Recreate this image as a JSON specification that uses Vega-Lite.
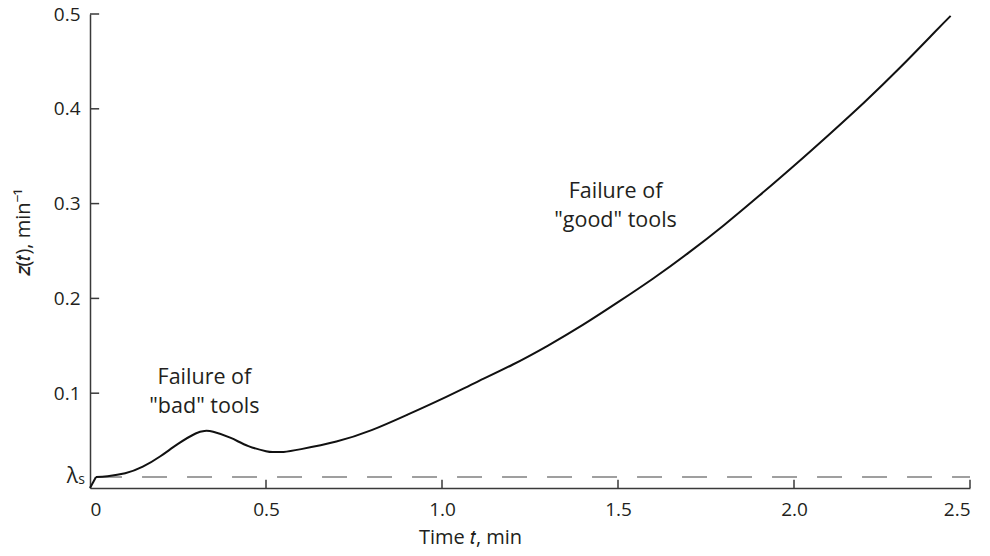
{
  "$schema": "https://vega.github.io/schema/vega-lite/v6.json",
  "width": 880,
  "height": 474,
  "autosize": {"type": "none"},
  "padding": {"left": 90, "top": 14, "right": 20, "bottom": 68},
  "background": "white",
  "config": {
    "view": {"stroke": null},
    "font": "Open Sans",
    "axis": {
      "grid": false,
      "ticks": false,
      "domainColor": "#3a3a3a",
      "domainWidth": 1.5,
      "labelFont": "Open Sans",
      "labelFontSize": 19,
      "labelColor": "#231f20",
      "titleFont": "Open Sans",
      "titleFontSize": 20,
      "titleFontWeight": "normal",
      "titleColor": "#231f20"
    }
  },
  "datasets": {
    "curve": [
      {"t": 0.0, "z": 0.0},
      {"t": 0.017, "z": 0.0116},
      {"t": 0.05, "z": 0.0125},
      {"t": 0.1, "z": 0.0155},
      {"t": 0.15, "z": 0.0225},
      {"t": 0.2, "z": 0.0335},
      {"t": 0.25, "z": 0.0465},
      {"t": 0.3, "z": 0.0575},
      {"t": 0.325, "z": 0.0602},
      {"t": 0.35, "z": 0.0594},
      {"t": 0.4, "z": 0.0528},
      {"t": 0.45, "z": 0.0442},
      {"t": 0.5, "z": 0.0388},
      {"t": 0.52, "z": 0.0379},
      {"t": 0.55, "z": 0.0381},
      {"t": 0.6, "z": 0.041},
      {"t": 0.7, "z": 0.049},
      {"t": 0.8, "z": 0.061},
      {"t": 0.9, "z": 0.077},
      {"t": 1.0, "z": 0.094},
      {"t": 1.1, "z": 0.112},
      {"t": 1.2, "z": 0.13},
      {"t": 1.3, "z": 0.15},
      {"t": 1.4, "z": 0.172},
      {"t": 1.5, "z": 0.196},
      {"t": 1.6, "z": 0.221},
      {"t": 1.7, "z": 0.248},
      {"t": 1.8, "z": 0.277},
      {"t": 1.9, "z": 0.308},
      {"t": 2.0, "z": 0.34},
      {"t": 2.1, "z": 0.373},
      {"t": 2.2, "z": 0.407},
      {"t": 2.3, "z": 0.443},
      {"t": 2.4, "z": 0.481},
      {"t": 2.445, "z": 0.498}
    ],
    "lambda": [{"t0": 0.02, "t1": 2.5, "z": 0.0116}],
    "xticks": [{"t": 0.5}, {"t": 1.0}, {"t": 1.5}, {"t": 2.0}, {"t": 2.5}],
    "yticks": [{"z": 0.1}, {"z": 0.2}, {"z": 0.3}, {"z": 0.4}, {"z": 0.5}],
    "notes": [
      {"t": 0.325, "z": 0.11, "label": ["Failure of", "\"bad\" tools"]},
      {"t": 1.493, "z": 0.306, "label": ["Failure of", "\"good\" tools"]}
    ],
    "lambdaLabel": [{"t": 0, "z": 0.0116, "sym": "λ", "sub": "s"}]
  },
  "layer": [
    {
      "data": {"name": "lambda"},
      "mark": {"type": "rule", "color": "#808080", "strokeWidth": 1.5, "strokeDash": [25, 20]},
      "encoding": {
        "x": {"field": "t0", "type": "quantitative", "scale": {"domain": [0, 2.5], "nice": false}},
        "x2": {"field": "t1"},
        "y": {"field": "z", "type": "quantitative", "scale": {"domain": [0, 0.5], "nice": false}}
      }
    },
    {
      "data": {"name": "xticks"},
      "mark": {"type": "rule", "color": "#3a3a3a", "strokeWidth": 1.5},
      "encoding": {
        "x": {"field": "t", "type": "quantitative"},
        "y": {"datum": 0, "type": "quantitative"},
        "y2": {"datum": 0.0088}
      }
    },
    {
      "data": {"name": "yticks"},
      "mark": {"type": "rule", "color": "#3a3a3a", "strokeWidth": 1.5},
      "encoding": {
        "y": {"field": "z", "type": "quantitative"},
        "x": {"datum": 0, "type": "quantitative"},
        "x2": {"datum": 0.026}
      }
    },
    {
      "data": {"name": "curve"},
      "transform": [{"filter": "datum.t <= 0.017"}],
      "mark": {"type": "line", "color": "#111111", "strokeWidth": 2},
      "encoding": {
        "x": {"field": "t", "type": "quantitative"},
        "y": {"field": "z", "type": "quantitative"}
      }
    },
    {
      "data": {"name": "curve"},
      "transform": [{"filter": "datum.t >= 0.017"}],
      "mark": {"type": "line", "color": "#111111", "strokeWidth": 2, "interpolate": "natural"},
      "encoding": {
        "x": {
          "field": "t",
          "type": "quantitative",
          "axis": {
            "values": [0, 0.5, 1, 1.5, 2, 2.5],
            "labelExpr": "datum.value === 0 ? '0' : format(datum.value, '.1f')",
            "labelPadding": 12,
            "title": "Time 𝑡, min",
            "titleX": 380,
            "titlePadding": 8
          }
        },
        "y": {
          "field": "z",
          "type": "quantitative",
          "axis": {
            "values": [0.1, 0.2, 0.3, 0.4, 0.5],
            "format": ".1f",
            "labelPadding": 10,
            "title": "𝑧(𝑡), min⁻¹",
            "titleY": 218,
            "titlePadding": 20
          }
        }
      }
    },
    {
      "data": {"name": "notes"},
      "mark": {"type": "text", "fontSize": 21.5, "color": "#231f20", "align": "center", "baseline": "alphabetic", "lineHeight": 29},
      "encoding": {
        "x": {"field": "t", "type": "quantitative"},
        "y": {"field": "z", "type": "quantitative"},
        "text": {"field": "label"}
      }
    },
    {
      "data": {"name": "lambdaLabel"},
      "mark": {"type": "text", "fontSize": 21, "color": "#231f20", "align": "right", "baseline": "middle", "dx": -12},
      "encoding": {
        "x": {"field": "t", "type": "quantitative"},
        "y": {"field": "z", "type": "quantitative"},
        "text": {"field": "sym"}
      }
    },
    {
      "data": {"name": "lambdaLabel"},
      "mark": {"type": "text", "fontSize": 14, "color": "#231f20", "align": "right", "baseline": "middle", "dx": -5, "dy": 3},
      "encoding": {
        "x": {"field": "t", "type": "quantitative"},
        "y": {"field": "z", "type": "quantitative"},
        "text": {"field": "sub"}
      }
    }
  ]
}
